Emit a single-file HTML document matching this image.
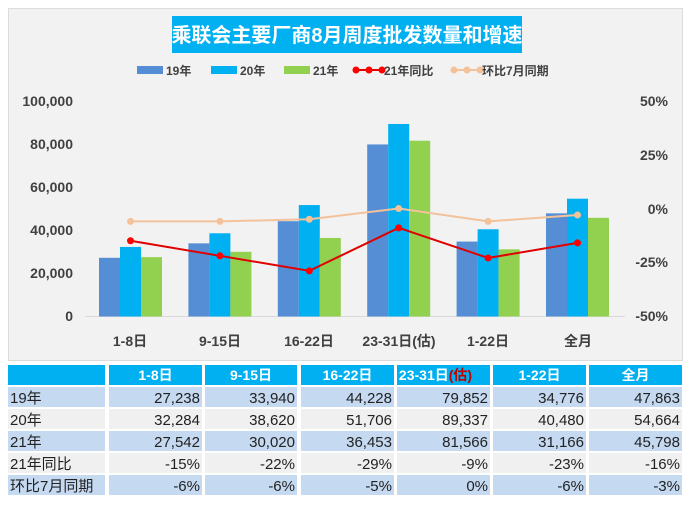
<!DOCTYPE html>
<html><head><meta charset="utf-8"><style>
body{margin:0;width:689px;height:515px;background:#fff;overflow:hidden;font-family:"Liberation Sans","Noto Sans CJK SC",sans-serif;}
</style></head><body>
<svg width="689" height="515" xmlns="http://www.w3.org/2000/svg" style="position:absolute;left:0;top:0;font-family:'Liberation Sans','Noto Sans CJK SC',sans-serif">
<rect x="8.5" y="8.5" width="674" height="352" fill="#f2f2f2" stroke="#dcdcdc"/>
<rect x="172" y="16" width="350" height="37" fill="#00b0f0"/>
<text x="347" y="42" text-anchor="middle" fill="#fff" font-size="20" font-weight="bold">乘联会主要厂商8月周度批发数量和增速</text>
<g font-size="12" font-weight="bold" fill="#404040">
<rect x="137" y="66" width="26" height="8" fill="#558ed5"/><text x="166" y="75">19年</text>
<rect x="211" y="66" width="26" height="8" fill="#00b0f0"/><text x="240" y="75">20年</text>
<rect x="284" y="66" width="26" height="8" fill="#92d050"/><text x="313" y="75">21年</text>
<line x1="355" y1="70" x2="383" y2="70" stroke="#e00000" stroke-width="2"/><circle cx="356" cy="70" r="3.5" fill="#f00"/><circle cx="369" cy="70" r="3.5" fill="#f00"/><circle cx="382" cy="70" r="3.5" fill="#f00"/><text x="384" y="75">21年同比</text>
<line x1="453" y1="70" x2="481" y2="70" stroke="#f4c29a" stroke-width="2"/><circle cx="454" cy="70" r="3.5" fill="#f4c29a"/><circle cx="467" cy="70" r="3.5" fill="#f4c29a"/><circle cx="480" cy="70" r="3.5" fill="#f4c29a"/><text x="482" y="75">环比7月同期</text>
</g>
<g font-size="14" font-weight="bold" fill="#404040" text-anchor="end">
<text x="73" y="106">100,000</text><text x="73" y="149">80,000</text><text x="73" y="192">60,000</text><text x="73" y="235">40,000</text><text x="73" y="278">20,000</text><text x="73" y="321">0</text>
</g>
<g font-size="14" font-weight="bold" fill="#404040" text-anchor="end">
<text x="668" y="106">50%</text><text x="668" y="160">25%</text><text x="668" y="214">0%</text><text x="668" y="267">-25%</text><text x="668" y="321">-50%</text>
</g>
<line x1="85" y1="316.5" x2="625" y2="316.5" stroke="#d9d9d9" stroke-width="1"/>
<g id="bars"></g>
<g font-size="14" font-weight="bold" fill="#404040" text-anchor="middle">
<text x="130" y="346">1-8日</text><text x="220" y="346">9-15日</text><text x="309" y="346">16-22日</text><text x="399" y="346">23-31日(估)</text><text x="488" y="346">1-22日</text><text x="578" y="346">全月</text>
</g>
<g id="tbl"></g>
</svg>
<script>
const ns="http://www.w3.org/2000/svg";
function el(p,t,a,txt){const e=document.createElementNS(ns,t);for(const k in a)e.setAttribute(k,a[k]);if(txt!=null)e.textContent=txt;p.appendChild(e);return e;}
const svg=document.querySelector('svg');
const d19=[27238,33940,44228,79852,34776,47863],d20=[32284,38620,51706,89337,40480,54664],d21=[27542,30020,36453,81566,31166,45798];
const yoy=[-15,-22,-29,-9,-23,-16],mom=[-6,-6,-5,0,-6,-3];
const g=document.getElementById('bars');
const base=316.5,sc=215.5/100000;
const cx=i=>130.5+89.4*i;
for(let i=0;i<6;i++){
 [[d19,'#558ed5',-31.5],[d20,'#00b0f0',-10.5],[d21,'#92d050',10.5]].forEach(([d,c,o])=>{const h=d[i]*sc;el(g,'rect',{x:cx(i)+o,y:base-h,width:21,height:h,fill:c});});
}
const py=v=>208.5-v*2.15;
el(g,'polyline',{points:mom.map((v,i)=>cx(i)+','+py(v)).join(' '),fill:'none',stroke:'#f4c29a','stroke-width':2});
mom.forEach((v,i)=>el(g,'circle',{cx:cx(i),cy:py(v),r:3.5,fill:'#f4c29a'}));
el(g,'polyline',{points:yoy.map((v,i)=>cx(i)+','+py(v)).join(' '),fill:'none',stroke:'#e00000','stroke-width':2});
yoy.forEach((v,i)=>el(g,'circle',{cx:cx(i),cy:py(v),r:3.5,fill:'#f00'}));
const t=document.getElementById('tbl');
const cols=[[8,105],[109,202],[205,297],[301,394],[397,490],[493,586],[589,682]];
const hdr=['','1-8日','9-15日','16-22日','23-31日','1-22日','全月'];
cols.forEach((c,j)=>{el(t,'rect',{x:c[0],y:365,width:c[1]-c[0],height:20,fill:'#00b0f0'});
 if(j>0){const tx=el(t,'text',{x:(c[0]+c[1])/2+(j==4?-8:0),y:380,'text-anchor':'middle','font-size':14,'font-weight':'bold',fill:'#fff'},hdr[j]);
 if(j==4){const s=el(tx,'tspan',{fill:'#c00000'},'(估)');}}});
const fmt=n=>n.toLocaleString('en-US');
const rows=[['19年',d19.map(fmt),'#c5d9f1'],['20年',d20.map(fmt),'#f0f0f0'],['21年',d21.map(fmt),'#c5d9f1'],['21年同比',yoy.map(v=>v+'%'),'#f0f0f0'],['环比7月同期',mom.map(v=>v+'%'),'#c5d9f1']];
rows.forEach((r,i)=>{const y=387+22*i;
 cols.forEach((c,j)=>{el(t,'rect',{x:c[0],y:y,width:c[1]-c[0],height:20,fill:r[2]});
 if(j==0)el(t,'text',{x:10,y:y+16,'font-size':15,fill:'#222'},r[0]);
 else el(t,'text',{x:c[1]-2,y:y+16,'text-anchor':'end','font-size':15,fill:'#222'},r[1][j-1]);});});
</script>
</body></html>
